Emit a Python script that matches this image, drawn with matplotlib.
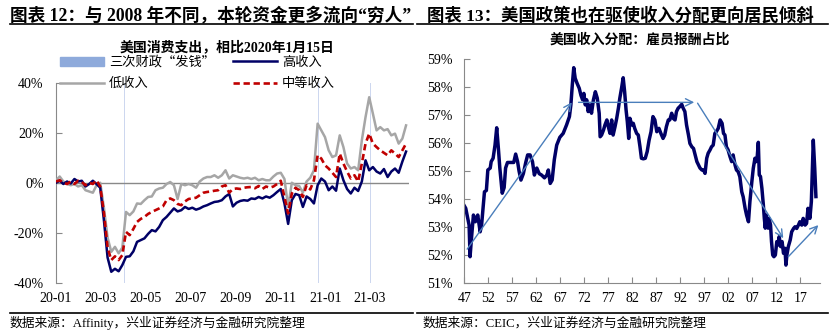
import numpy as np
import pandas as pd
import matplotlib
matplotlib.use('Agg')
import matplotlib.pyplot as plt
from matplotlib.lines import Line2D
from matplotlib.ticker import FuncFormatter

# ── Fonts ─────────────────────────────────────────────────────────────────────
FONTS = ['Liberation Serif', 'Noto Sans CJK SC']
plt.rcParams['font.family'] = FONTS
plt.rcParams['axes.unicode_minus'] = False

# ── Left: US consumer spending vs 2020-01-15 (%), one reading every 5 days ────
start_date = '2020-01-13'
step = '5D'
high_income = [0.0, 0.8, -0.5, 0.5, -0.3, 1.5, 0.5, 0.8, -1.5, -0.5,
               0.8, -0.5, -2.0, -15.0, -30.0, -35.7, -34.5, -35.5, -33.0, -29.7,
               -29.5, -27.5, -23.7, -23.0, -22.3, -20.5, -19.0, -19.5, -17.7, -15.0,
               -13.7, -12.0, -10.3, -11.5, -11.0, -9.7, -10.5, -10.0, -10.8, -10.3,
               -9.5, -9.0, -8.3, -7.7, -7.5, -7.0, -5.5, -4.5, -9.5, -8.0,
               -7.3, -7.0, -7.2, -6.3, -6.5, -5.7, -6.3, -5.5, -6.0, -5.0,
               -3.7, -2.5, -8.3, -16.5, -7.0, -4.5, -5.0, -9.7, -5.5, -6.5,
               -8.3, -1.0, 1.7, 0.5, -3.0, -1.5, -3.2, 5.7, 1.0, -2.5,
               -4.3, -2.0, -3.3, 0.5, 9.0, 5.0, 6.3, 4.5, 3.7, 5.5,
               2.3, 4.5, 5.7, 4.0, 8.5, 12.5]
mid_income = [0.5, 1.0, 0.0, -0.5, 0.5, -0.5, 0.8, 0.3, -1.0, 0.0,
              -0.5, 1.0, -1.5, -12.0, -26.0, -31.0, -29.5, -31.0, -29.0, -19.7,
              -21.0, -18.5, -15.7, -14.5, -13.7, -12.5, -11.7, -11.0, -10.3, -9.5,
              -7.0, -6.3, -7.0, -8.5, -9.0, -7.5, -6.5, -6.3, -6.0, -5.0,
              -4.0, -3.7, -3.5, -3.2, -3.0, -1.5, -1.0, -4.0, -2.5, -2.3,
              -2.5, -2.0, -1.8, -1.7, -2.2, -1.3, -2.5, -1.5, -2.0, -1.5,
              -0.5, 0.8, -5.7, -12.3, -4.3, -2.0, -3.0, -5.7, -1.0, -2.7,
              1.0, 11.0, 9.7, 7.0, 5.7, 4.0, 2.3, 11.7, 7.7, 4.5,
              1.7, 3.0, 0.5, 7.7, 15.7, 19.7, 15.7, 14.3, 13.0, 12.0,
              11.0, 13.0, 11.7, 10.3, 13.0, 15.7]
low_income = [1.0, 2.5, 0.5, -0.5, -1.0, -0.5, -1.5, -1.0, -3.0, -3.5,
              -4.0, -1.0, 0.0, -10.0, -22.0, -27.7, -25.7, -28.3, -26.0, -11.7,
              -13.0, -11.5, -8.3, -8.5, -7.0, -5.7, -5.5, -3.0, -2.3, -2.0,
              -0.5, 0.3, -1.0, -6.5, -0.5, -1.0, -0.5, -1.0, -2.0, 0.5,
              1.7, 2.3, 2.3, 3.0, 2.0, 3.0, 5.0, 1.7, 3.0, 2.5,
              2.0, 1.7, 2.0, 1.5, 2.0, 1.0, 1.5, 1.0, 1.0, 2.5,
              3.7, 4.0, 1.5, -9.7, 0.0, -1.0, -1.3, -4.0, 0.5, 2.0,
              5.0, 23.7, 21.0, 18.3, 13.0, 10.3, 11.0, 19.0, 14.3, 7.7,
              5.7, 6.3, 5.0, 17.0, 26.3, 34.3, 27.7, 21.0, 22.3, 21.0,
              21.5, 19.0, 19.7, 15.7, 17.7, 23.0]
stimulus_dates = ['2020-04-15', '2021-01-03', '2021-03-15']
left_ticks = pd.date_range(start_date, periods=8, freq=pd.DateOffset(months=2))

# ── Right: US compensation of employees share (%) ─────────────────────────────
comp_year = [1947.0, 1947.3, 1948.0, 1948.2, 1948.5, 1948.9, 1949.3, 1949.8, 1950.3, 1950.6,
             1951.2, 1951.6, 1951.9, 1952.4, 1952.6, 1953.0, 1953.4, 1953.75, 1954.1, 1954.4,
             1954.9, 1955.3, 1955.6, 1956.0, 1956.5, 1956.9, 1957.3, 1957.7, 1958.1, 1958.4,
             1958.8, 1959.3, 1959.8, 1960.2, 1960.7, 1961.2, 1961.6, 1962.1, 1962.6, 1963.1,
             1963.7, 1964.2, 1964.5, 1964.9, 1965.3, 1965.75, 1966.25, 1966.9, 1967.6, 1968.3,
             1968.9, 1969.2, 1969.5, 1969.8, 1970.1, 1970.5, 1970.95, 1971.3, 1971.65, 1971.9,
             1972.2, 1972.5, 1972.8, 1973.2, 1973.5, 1973.9, 1974.3, 1974.7, 1975.1, 1975.3,
             1975.6, 1976.0, 1976.3, 1976.7, 1977.0, 1977.35, 1977.7, 1978.0, 1978.4, 1978.75,
             1979.1, 1979.4, 1979.8, 1980.1, 1980.4, 1980.7, 1980.96, 1981.25, 1981.5, 1981.9,
             1982.2, 1982.5, 1982.9, 1983.25, 1983.6, 1983.9, 1984.3, 1984.7, 1985.1, 1985.5,
             1985.9, 1986.3, 1986.7, 1987.1, 1987.55, 1987.95, 1988.4, 1988.75, 1989.1, 1989.5,
             1989.8, 1990.2, 1990.5, 1990.9, 1991.2, 1991.55, 1991.9, 1992.3, 1992.6, 1992.95,
             1993.3, 1993.7, 1994.0, 1994.4, 1994.75, 1995.1, 1995.45, 1995.8, 1996.1, 1996.5,
             1996.85, 1997.15, 1997.5, 1997.8, 1998.2, 1998.5, 1998.85, 1999.2, 1999.5, 1999.9,
             2000.3, 2000.7, 2001.0, 2001.3, 2001.6, 2001.95, 2002.35, 2002.7, 2003.0, 2003.4,
             2003.7, 2004.05, 2004.4, 2004.8, 2005.1, 2005.5, 2005.8, 2006.2, 2006.5, 2006.9,
             2007.2, 2007.55, 2007.8, 2008.0, 2008.25, 2008.45, 2008.7, 2009.0, 2009.3, 2009.5,
             2009.7, 2009.9, 2010.3, 2010.5, 2010.8, 2011.0, 2011.25, 2011.5, 2011.8, 2012.1,
             2012.4, 2012.6, 2012.9, 2013.2, 2013.5, 2013.8, 2014.0, 2014.2, 2014.5, 2014.9,
             2015.2, 2015.6, 2015.9, 2016.25, 2016.6, 2016.9, 2017.3, 2017.6, 2018.0, 2018.3,
             2018.6, 2019.0, 2019.3, 2019.5, 2019.7, 2020.0, 2020.25]
comp_share = [53.75, 53.66, 53.06, 51.93, 52.6, 53.42, 53.18, 53.42, 52.82, 53.06,
              54.25, 54.3, 55.03, 55.1, 55.33, 55.45, 55.92, 56.54, 55.8, 55.1,
              54.2, 54.4, 55.1, 55.3, 55.3, 55.3, 55.3, 55.6, 55.33, 55.0,
              54.67, 54.9, 55.3, 55.57, 55.57, 55.33, 54.85, 55.1, 54.9, 54.85,
              54.75, 54.85, 55.03, 54.55, 54.67, 55.4, 55.92, 56.2, 56.34, 56.64,
              56.94, 57.36, 58.07, 58.69, 58.31, 58.13, 57.95, 57.7, 57.54, 57.77,
              57.36, 57.54, 57.12, 57.36, 57.06, 57.54, 57.83, 57.6, 57.06, 56.22,
              56.28, 56.46, 56.64, 56.82, 56.58, 56.34, 56.82, 56.28, 56.58, 56.88,
              57.24, 57.6, 58.0, 58.33, 57.83, 57.18, 56.76, 56.16, 56.88, 56.64,
              56.7, 56.52, 56.34, 56.28, 55.86, 55.45, 55.43, 55.45, 55.69, 56.1,
              56.4, 56.94, 56.82, 56.4, 56.52, 56.34, 56.16, 56.28, 56.58, 56.82,
              56.82, 57.06, 56.88, 56.82, 57.12, 57.24, 57.3, 57.38, 57.24, 57.12,
              56.64, 56.28, 55.98, 55.86, 55.8, 55.57, 55.33, 55.21, 55.1, 55.03,
              55.03, 54.91, 55.45, 55.63, 55.75, 55.86, 55.92, 56.34, 56.4, 56.52,
              56.82, 56.7, 56.34, 56.28, 55.86, 55.75, 55.51, 55.33, 55.57, 55.21,
              55.03, 54.97, 54.79, 54.25, 54.07, 53.66, 53.42, 53.18, 53.9, 54.61,
              55.09, 55.45, 55.33, 55.45, 56.02, 54.85, 54.8, 54.37, 53.78, 53.3,
              52.95, 53.42, 52.95, 53.3, 53.06, 52.47, 51.99, 51.93, 51.99, 52.47,
              52.35, 52.65, 52.29, 52.47, 52.05, 52.23, 51.63, 51.99, 52.29, 52.53,
              52.82, 52.94, 53.0, 52.94, 53.06, 53.18, 53.06, 53.3, 53.06, 53.12,
              53.66, 53.3, 53.9, 54.97, 56.1, 55.1, 54.08]
# trend arrows: (from_year, from_pct, to_year, to_pct)
trend_arrows = [(1947.6, 52.2, 1969.4, 57.45),
                (1970.8, 57.45, 1994.9, 57.45),
                (1995.6, 57.42, 2013.45, 52.59),
                (2014.5, 51.93, 2020.75, 53.06)]
right_tick_years = list(range(1947, 2021, 5))

NAVY, RED, GRAY, AXC = '#000066', '#c00000', '#a6a6a6', '#898989'
STIM = '#8eaadb'

# ── Figure ────────────────────────────────────────────────────────────────────
W, H = 833, 336
fig = plt.figure(figsize=(W / 100, H / 100), dpi=100)


def fx(px):
    return px / W


def fy(py):
    return 1 - py / H


# headings, rules and sources
fig.text(fx(10), fy(16), '图表 12：与 2008 年不同，本轮资金更多流向“穷人”',
         fontsize=12.7, fontweight='bold', va='center', ha='left')
fig.text(fx(427), fy(16), '图表 13：美国政策也在驱使收入分配更向居民倾斜',
         fontsize=12.5, fontweight='bold', va='center', ha='left')
for x0, x1 in [(10, 413), (417, 828)]:
    for y in (24, 313):
        fig.add_artist(Line2D([fx(x0), fx(x1)], [fy(y), fy(y)],
                              transform=fig.transFigure, color='black', lw=1.2))
fig.text(fx(10), fy(323), '数据来源：Affinity，兴业证券经济与金融研究院整理',
         fontsize=9.2, va='center', ha='left')
fig.text(fx(423), fy(323), '数据来源：CEIC，兴业证券经济与金融研究院整理',
         fontsize=9.2, va='center', ha='left')
fig.text(fx(227), fy(47), '美国消费支出，相比2020年1月15日',
         fontsize=10, fontweight='bold', va='center', ha='center')
fig.text(fx(640), fy(40), '美国收入分配：雇员报酬占比',
         fontsize=10, fontweight='bold', va='center', ha='center')

# ── Left chart ────────────────────────────────────────────────────────────────
axL = fig.add_axes([fx(56), fy(282.5), fx(353), 199.5 / H])
dates = pd.date_range(start_date, periods=len(high_income), freq=step)
bars = axL.bar(pd.to_datetime(stimulus_dates), [80] * len(stimulus_dates), bottom=-40,
               width=0.9, color='#cdd7ef', label='三次财政“发钱”', zorder=1)
l_low, = axL.plot(dates, low_income, color=GRAY, lw=1.8, label='低收入', zorder=3)
l_high, = axL.plot(dates, high_income, color=NAVY, lw=1.8, label='高收入', zorder=4)
l_mid, = axL.plot(dates, mid_income, color=RED, lw=1.9, ls=(0, (2.4, 1.4)),
                  label='中等收入', zorder=5)
axL.axhline(0, color=AXC, lw=1, zorder=2)
axL.set_ylim(-40, 40)
axL.set_xlim(pd.Timestamp(start_date), pd.Timestamp('2021-05-06'))
axL.set_yticks([-40, -20, 0, 20, 40])
axL.yaxis.set_major_formatter(FuncFormatter(lambda v, p: f'{v:.0f}%'))
axL.set_xticks(left_ticks)
axL.set_xticklabels([d.strftime('%y-%m') for d in left_ticks])
for s in ('top', 'right', 'bottom'):
    axL.spines[s].set_visible(False)
axL.spines['left'].set_color(AXC)
axL.tick_params(axis='y', direction='in', length=4, color=AXC, labelsize=10, pad=9)
axL.tick_params(axis='x', length=0, labelsize=10, pad=7)

leg = fig.legend([bars, l_low, l_high, l_mid], ['三次财政“发钱”', '低收入', '高收入', '中等收入'],
                 ncol=2, loc='upper left', bbox_to_anchor=(fx(60), fy(56)), frameon=False,
                 prop={'family': ['Noto Sans CJK SC'], 'size': 9.5}, handlelength=3.3,
                 handletextpad=0.4, columnspacing=1.4, labelspacing=0.62,
                 borderaxespad=0, borderpad=0)
leg.legend_handles[0].set_color(STIM)

# ── Right chart ───────────────────────────────────────────────────────────────
axR = fig.add_axes([fx(464.3), fy(282.7), fx(355.7), 223.7 / H])
axR.plot(comp_year, comp_share, color=NAVY, lw=2.5, solid_joinstyle='round')
for x0, y0, x1, y1 in trend_arrows:
    axR.annotate('', xy=(x1, y1), xytext=(x0, y0),
                 arrowprops=dict(arrowstyle='->', color='#4a7ebb', lw=1,
                                 shrinkA=0, shrinkB=0, mutation_scale=13))
axR.set_xlim(1947, 2021.1)
axR.set_ylim(51, 59)
axR.set_yticks(range(51, 60))
axR.yaxis.set_major_formatter(FuncFormatter(lambda v, p: f'{v:.0f}%'))
axR.set_xticks(right_tick_years)
axR.set_xticklabels([f'{y % 100:02d}' for y in right_tick_years])
for s in ('top', 'right'):
    axR.spines[s].set_visible(False)
for s in ('left', 'bottom'):
    axR.spines[s].set_color(AXC)
axR.tick_params(axis='y', direction='in', length=4, color=AXC, labelsize=10, pad=8.5)
axR.tick_params(axis='x', direction='in', length=4, color=AXC, labelsize=10, pad=7)

fig.savefig('out.png', dpi=100)
